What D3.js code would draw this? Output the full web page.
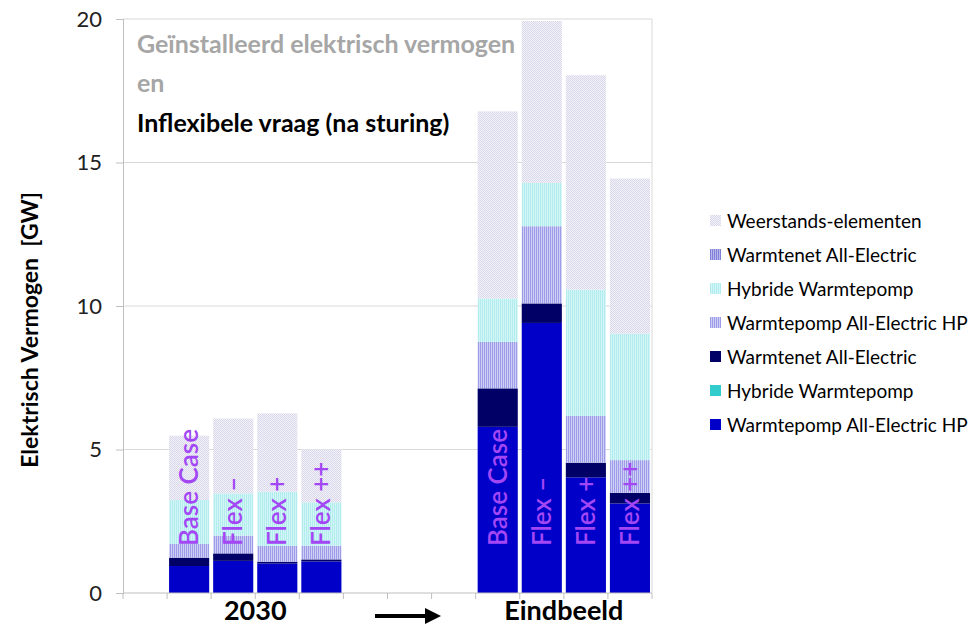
<!DOCTYPE html>
<html>
<head>
<meta charset="utf-8">
<script src="https://cdn.jsdelivr.net/npm/d3@7"></script>
<style>
  html, body { margin: 0; padding: 0; background: #fff; }
  svg { display: block; font-family: Lato, "Open Sans", sans-serif; }
</style>
</head>
<body>
<svg id="chart" width="974" height="626"></svg>
<script>
// ---------- DATA ----------
const slots = ["pad", "2030|Base Case", "2030|Flex –", "2030|Flex +", "2030|Flex ++",
               "gap1", "gap2", "gap3",
               "Eind|Base Case", "Eind|Flex –", "Eind|Flex +", "Eind|Flex ++"];
const scenarios = ["2030|Base Case", "2030|Flex –", "2030|Flex +", "2030|Flex ++",
                   "Eind|Base Case", "Eind|Flex –", "Eind|Flex +", "Eind|Flex ++"];
const barLabels = ["Base Case", "Flex –", "Flex +", "Flex ++",
                   "Base Case", "Flex –", "Flex +", "Flex ++"];
const groupLabels = ["2030", "Eindbeeld"];

// stack order bottom -> top
const hpSolid  = [0.94, 1.12, 1.03, 1.10, 5.79, 9.41, 4.03, 3.12];
const hybSolid = [0, 0, 0, 0, 0, 0, 0, 0];
const wnSolid  = [0.29, 0.26, 0.06, 0.07, 1.34, 0.68, 0.51, 0.37];
const hpPat    = [0.48, 0.62, 0.55, 0.48, 1.62, 2.69, 1.63, 1.14];
const hybPat   = [1.53, 1.47, 1.89, 1.51, 1.51, 1.51, 4.40, 4.41];
const wnPat    = [0, 0, 0, 0, 0, 0, 0, 0];
const weer     = [2.24, 2.61, 2.73, 1.85, 6.52, 5.64, 7.47, 5.40];

const seriesNames = ["Warmtepomp All-Electric HP", "Hybride Warmtepomp", "Warmtenet All-Electric",
                     "Warmtepomp All-Electric HP", "Hybride Warmtepomp", "Warmtenet All-Electric",
                     "Weerstands-elementen"];
const seriesValues = [hpSolid, hybSolid, wnSolid, hpPat, hybPat, wnPat, weer];
const yTicks = [0, 5, 10, 15, 20];

// ---------- SETUP ----------
const svg = d3.select("#chart");
const M = {left: 123, right: 652, top: 19, bottom: 593};

const defs = svg.append("defs");
function stripePattern(id, a, b) {
  const p = defs.append("pattern").attr("id", id).attr("patternUnits", "userSpaceOnUse")
    .attr("width", 2).attr("height", 2);
  p.append("rect").attr("width", 1).attr("height", 2).attr("fill", a);
  p.append("rect").attr("x", 1).attr("width", 1).attr("height", 2).attr("fill", b);
}
function dotPattern(id, a, b) {
  const p = defs.append("pattern").attr("id", id).attr("patternUnits", "userSpaceOnUse")
    .attr("width", 2).attr("height", 2);
  p.append("rect").attr("width", 2).attr("height", 2).attr("fill", b);
  p.append("rect").attr("width", 1).attr("height", 1).attr("fill", a);
  p.append("rect").attr("x", 1).attr("y", 1).attr("width", 1).attr("height", 1).attr("fill", a);
}
stripePattern("pHP", "#9c9ce8", "#cfcff6");
stripePattern("pHyb", "#b2ecee", "#d2f6f6");
stripePattern("pWN", "#8080d8", "#b8b8ee");
dotPattern("pWeer", "#d8d8ea", "#f2f2f8");

const fills = ["#0000c8", "#33cccc", "#000066", "url(#pHP)", "url(#pHyb)", "url(#pWN)", "url(#pWeer)"];

const x = d3.scaleBand().domain(slots).range([M.left, M.right]).paddingInner(0.09).paddingOuter(0.045);
const y = d3.scaleLinear().domain([0, 20]).range([M.bottom, M.top]);

// gridlines
svg.append("g").selectAll("line").data(yTicks.filter(d => d > 0)).join("line")
  .attr("x1", M.left).attr("x2", M.right)
  .attr("y1", d => y(d)).attr("y2", d => y(d))
  .attr("stroke", "#d9d9d9").attr("stroke-width", 1);
// right border
svg.append("line").attr("x1", M.right).attr("x2", M.right).attr("y1", M.top).attr("y2", M.bottom)
  .attr("stroke", "#d9d9d9");

// stacked data
const table = scenarios.map((s, i) => {
  const o = {slot: s};
  seriesValues.forEach((arr, k) => o["s" + k] = arr[i]);
  return o;
});
const keys = seriesValues.map((_, k) => "s" + k);
const stack = d3.stack().keys(keys)(table);

svg.append("g").selectAll("g").data(stack).join("g")
  .attr("fill", (d, k) => fills[k])
  .selectAll("rect").data(d => d).join("rect")
  .attr("x", d => x(d.data.slot))
  .attr("width", x.bandwidth())
  .attr("y", d => y(d[1]))
  .attr("height", d => Math.max(0, y(d[0]) - y(d[1])));

// title texts inside plot
const title = svg.append("g").attr("font-weight", "bold").attr("font-size", 25);
title.append("text").attr("x", 137).attr("y", 53).attr("fill", "#a6a6a6").text("Geïnstalleerd elektrisch vermogen");
title.append("text").attr("x", 137).attr("y", 92).attr("fill", "#a6a6a6").text("en");
title.append("text").attr("x", 137).attr("y", 132).attr("fill", "#000").text("Inflexibele vraag (na sturing)");

// bar labels
svg.append("g").selectAll("text").data(scenarios).join("text")
  .attr("transform", d => `translate(${x(d) + x.bandwidth() / 2 + 9},546) rotate(-90)`)
  .attr("fill", "#a347f5").attr("font-size", 26).attr("font-weight", "600")
  .text((d, i) => barLabels[i]);

// y axis
const yAxis = d3.axisLeft(y).tickValues(yTicks).tickSize(7).tickPadding(14);
const gy = svg.append("g").attr("transform", `translate(${M.left},0)`).call(yAxis);
gy.select(".domain").attr("stroke", "#bfbfbf");
gy.selectAll(".tick line").attr("stroke", "#bfbfbf");
gy.selectAll(".tick text").attr("font-size", 22).attr("fill", "#222").attr("font-family", "Lato, sans-serif");

// x axis: baseline and boundary ticks
svg.append("line").attr("x1", M.left).attr("x2", M.right).attr("y1", M.bottom).attr("y2", M.bottom)
  .attr("stroke", "#bfbfbf");
const step = x.step();
const bounds = d3.range(slots.length + 1).map(i => M.left + i * step);
svg.append("g").selectAll("line").data(bounds).join("line")
  .attr("x1", d => d).attr("x2", d => d).attr("y1", M.bottom).attr("y2", M.bottom + 6)
  .attr("stroke", "#bfbfbf");

// group labels
const g1 = (x(scenarios[0]) + x(scenarios[3]) + x.bandwidth()) / 2;
const g2 = (x(scenarios[4]) + x(scenarios[7]) + x.bandwidth()) / 2;
svg.append("g").selectAll("text").data(groupLabels).join("text")
  .attr("x", (d, i) => i === 0 ? g1 : g2).attr("y", 620)
  .attr("text-anchor", "middle").attr("font-size", 27).attr("font-weight", "bold").attr("fill", "#000")
  .text(d => d);

// arrow
defs.append("marker").attr("id", "arrowHead").attr("viewBox", "0 0 10 10").attr("refX", 0).attr("refY", 5)
  .attr("markerWidth", 4).attr("markerHeight", 4).attr("orient", "auto")
  .append("path").attr("d", "M0,0 L10,5 L0,10 Z").attr("fill", "#000");
svg.append("line").attr("x1", 375).attr("x2", 425).attr("y1", 616).attr("y2", 616)
  .attr("stroke", "#000").attr("stroke-width", 4).attr("marker-end", "url(#arrowHead)");

// y label
svg.append("text").attr("transform", "translate(38,330) rotate(-90)")
  .attr("text-anchor", "middle").attr("font-size", 23).attr("font-weight", "bold").attr("fill", "#000")
  .attr("xml:space", "preserve")
  .text("Elektrisch Vermogen  [GW]");

// legend (reverse of stack order)
const legendItems = seriesNames.map((n, k) => ({name: n, fill: fills[k]})).reverse();
const lg = svg.append("g").selectAll("g").data(legendItems).join("g")
  .attr("transform", (d, i) => `translate(710,${221 + i * 34})`);
lg.append("rect").attr("x", 0).attr("y", -6).attr("width", 11).attr("height", 11).attr("fill", d => d.fill);
lg.append("text").attr("x", 17).attr("y", 7).attr("font-size", 19).attr("fill", "#000").text(d => d.name);
</script>
</body>
</html>
